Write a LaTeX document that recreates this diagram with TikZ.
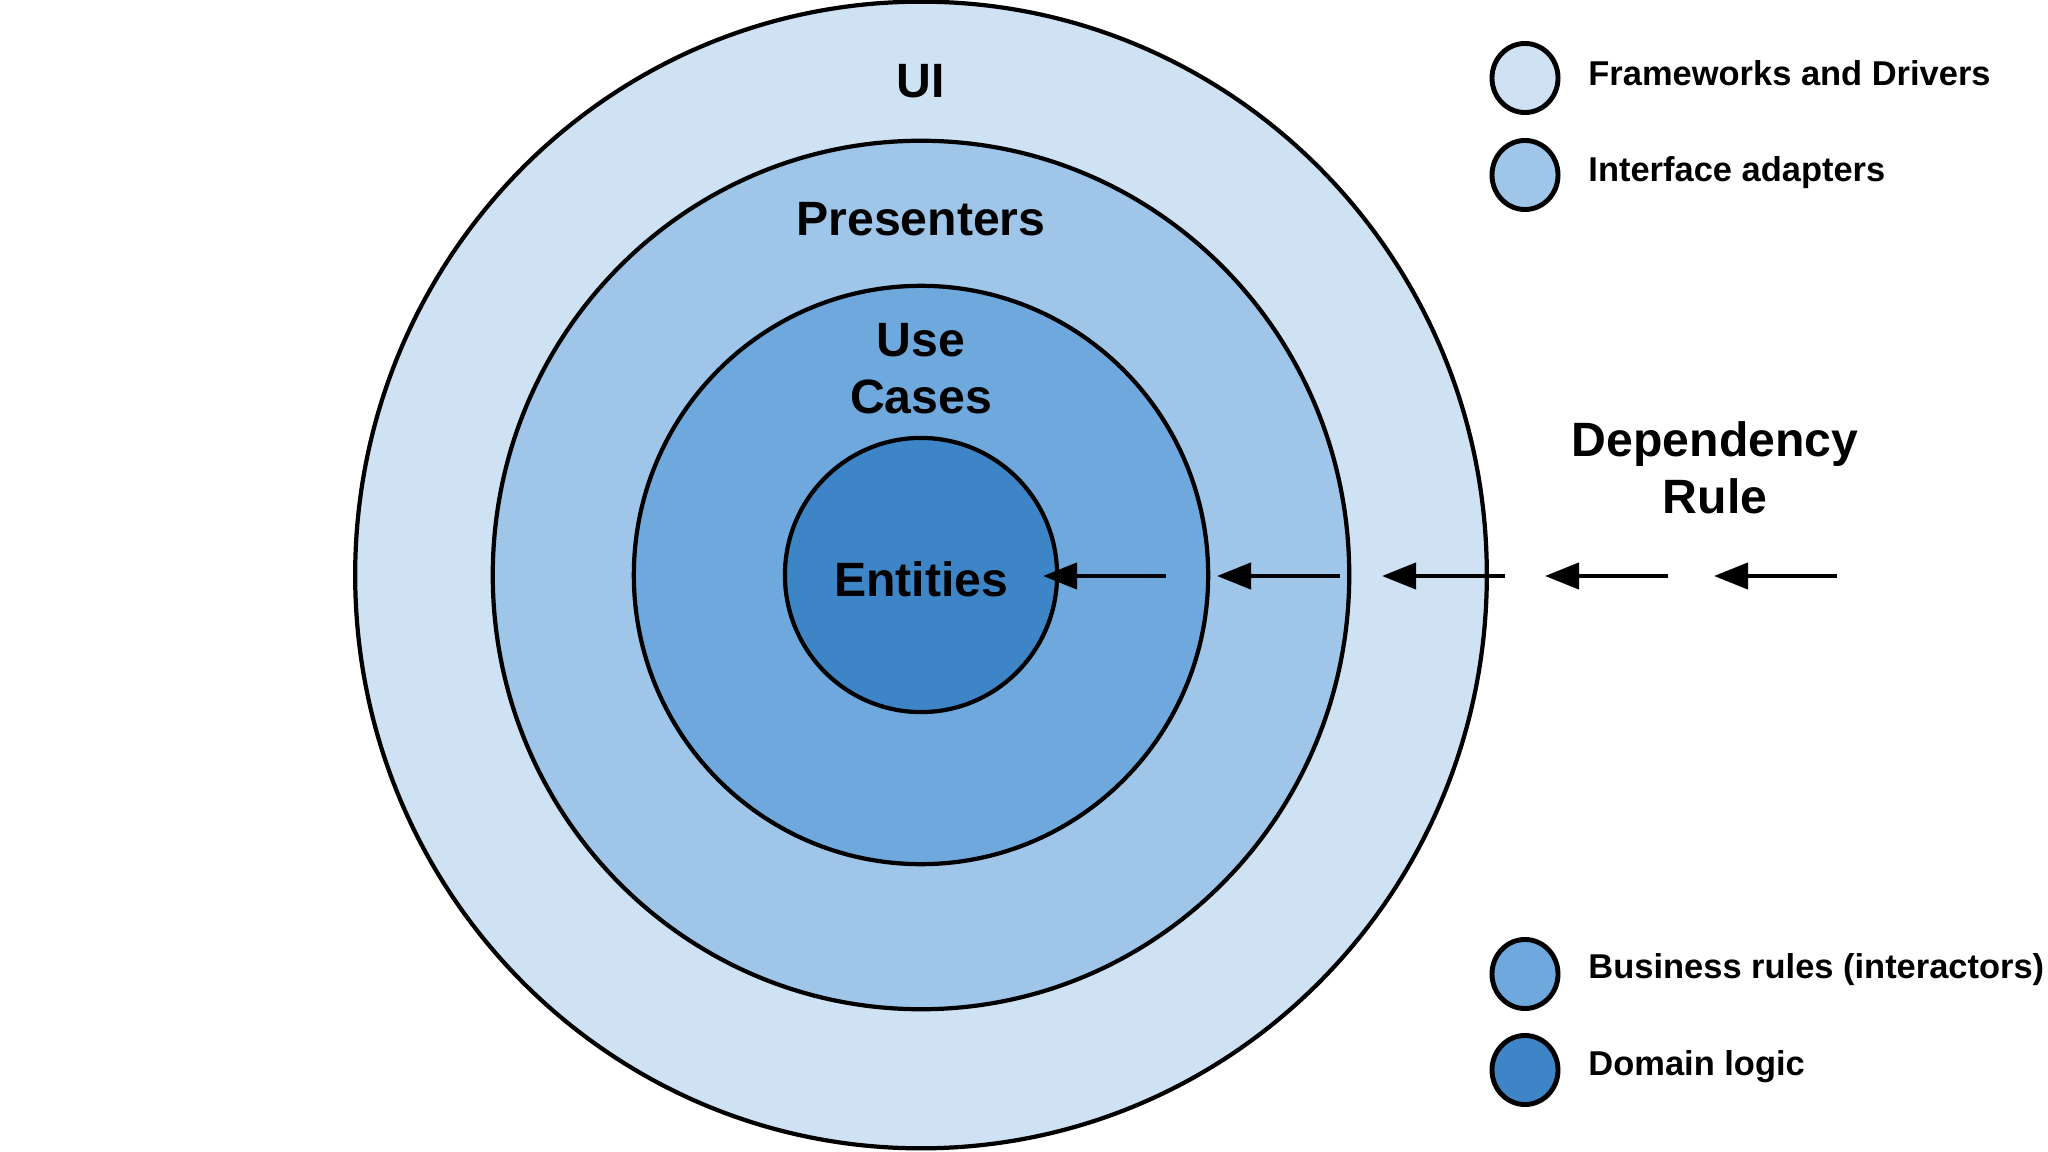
\documentclass[tikz,border=0pt]{standalone}
\usepackage{fontspec}
\setmainfont{Liberation Sans}
\usetikzlibrary{arrows.meta,shapes.geometric}
\definecolor{fwblue}{HTML}{CFE2F3}
\definecolor{iablue}{HTML}{9FC5E8}
\definecolor{ucblue}{HTML}{6FA8DC}
\definecolor{enblue}{HTML}{3D85C6}

\begin{document}
\begin{tikzpicture}[x=0.01cm,y=-0.01cm,>={Triangle[length=0.34cm,width=0.26cm]},
  ring/.style={ellipse,draw=black,line width=1.2pt,inner sep=0pt},
  lbl/.style={font=\bfseries\fontsize{13.7}{16.2}\selectfont,align=center},
  key/.style={ellipse,draw=black,line width=1.4pt,inner sep=0pt,
    minimum width=0.66cm,minimum height=0.69cm},
  keytext/.style={font=\bfseries\fontsize{9.8}{12}\selectfont,anchor=west}]
  \useasboundingbox (0,0) rectangle (2048,1152);

  % the rings
  \node[ring,fill=fwblue,minimum width=11.31cm,minimum height=11.46cm] (FD) at (921,575) {};
  \node[ring,fill=iablue,minimum width=8.56cm,minimum height=8.68cm] (IA) at (921,575) {};
  \node[ring,fill=ucblue,minimum width=5.74cm,minimum height=5.78cm] (BR) at (921,575) {};
  \node[ring,fill=enblue,minimum width=2.72cm,minimum height=2.74cm] (DL) at (921,575) {};

  \node[lbl] (UI)   at (921,81)  {UI};
  \node[lbl] (Pres) at (921,219) {Presenters};
  \node[lbl] (UC)   at (921,369) {Use\\Cases};
  \node[lbl] (Ent)  at (921,579) {Entities};
  \node[lbl] (Dep)  at (1715,468) {Dependency\\Rule};

  % dependency arrows
  \foreach \tip [count=\i] in {1043,1217,1382,1545,1714} {
    \coordinate (t\i) at (\tip,576);
    \coordinate (s\i) at (\tip+123,576);
    \draw[->,line width=1.2pt] (s\i) -- (t\i);
  }

  % legend
  \node[key,fill=fwblue] (kFD) at (1525,78)   {};
  \node[key,fill=iablue] (kIA) at (1525,175)  {};
  \node[key,fill=ucblue] (kBR) at (1525,974)  {};
  \node[key,fill=enblue] (kDL) at (1525,1070) {};
  \node[keytext] (tFD) at (1576,73)   {Frameworks and Drivers};
  \node[keytext] (tIA) at (1576,173)  {Interface adapters};
  \node[keytext] (tBR) at (1576,970)  {Business rules (interactors)};
  \node[keytext] (tDL) at (1576,1067) {Domain logic};
\end{tikzpicture}
\end{document}
